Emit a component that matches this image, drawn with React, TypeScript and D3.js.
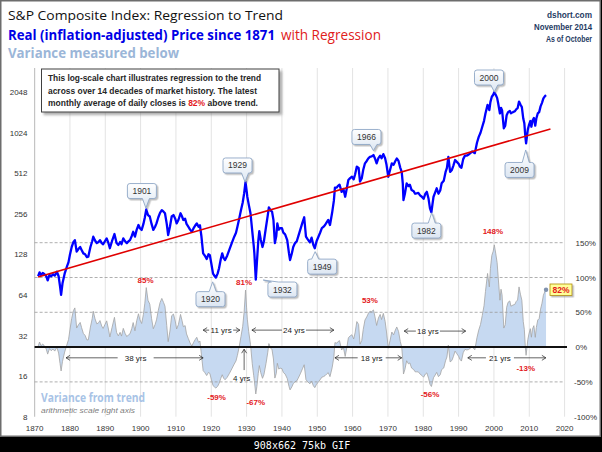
import React from 'react';
import * as d3 from 'd3';

const priceYears = [
  1871.0, 1871.4, 1871.8, 1872.3, 1872.8, 1873.3, 1873.7, 1874.2, 1874.7, 1875.2, 1875.7, 1876.3, 1876.8, 1877.2, 1877.5, 1877.9, 1878.5, 1879.1, 1879.6,
  1880.0, 1880.5, 1881.0, 1881.4, 1881.9, 1882.4, 1882.9, 1883.3, 1883.8, 1884.3, 1884.8, 1885.2, 1885.8, 1886.3, 1886.6, 1887.1, 1887.6, 1888.1, 1888.5, 1889.0, 1889.4, 1889.9,
  1890.4, 1890.9, 1891.3, 1891.9, 1892.6, 1893.2, 1893.7, 1894.2, 1894.6, 1895.1, 1895.6, 1896.1, 1896.6, 1897.0, 1897.5, 1897.9, 1898.4, 1898.9, 1899.4, 1899.8,
  1900.3, 1900.8, 1901.2, 1901.6, 1902.1, 1902.6, 1903.1, 1903.6, 1904.1, 1904.5, 1905.0, 1905.5, 1906.0, 1906.5, 1906.9, 1907.4, 1907.8, 1908.3, 1908.8, 1909.3, 1909.8,
  1910.2, 1910.7, 1911.3, 1911.7, 1912.1, 1912.6, 1913.0, 1913.5, 1914.0, 1914.5, 1915.0, 1915.5, 1915.9, 1916.4, 1916.8, 1917.2, 1917.7, 1918.2, 1918.7, 1919.2, 1919.6,
  1920.0, 1920.5, 1921.0, 1921.3, 1921.8, 1922.2, 1922.7, 1923.1, 1923.5, 1923.9, 1924.5, 1925.1, 1925.8, 1926.5, 1927.0, 1927.4, 1927.9, 1928.4, 1928.9, 1929.3, 1929.7,
  1930.0, 1930.2, 1930.6, 1931.1, 1931.6, 1932.0, 1932.2, 1932.6, 1932.9, 1933.3, 1933.6, 1934.0, 1934.5, 1934.9, 1935.5, 1936.0, 1936.3, 1936.8, 1937.2, 1937.6, 1938.0, 1938.4, 1938.7, 1939.1, 1939.5,
  1940.0, 1940.4, 1940.9, 1941.5, 1942.0, 1942.3, 1942.8, 1943.2, 1943.7, 1944.2, 1944.6, 1945.2, 1945.8, 1946.3, 1946.8, 1947.3, 1947.9, 1948.4, 1948.9, 1949.3, 1949.8,
  1950.3, 1950.8, 1951.3, 1951.8, 1952.2, 1952.7, 1953.1, 1953.6, 1954.2, 1954.7, 1955.0, 1955.5, 1955.8, 1956.3, 1956.9, 1957.4, 1957.9, 1958.4, 1958.8, 1959.3, 1959.8,
  1960.3, 1960.7, 1961.2, 1961.7, 1962.1, 1962.6, 1963.0, 1963.5, 1964.0, 1964.5, 1964.9, 1965.4, 1965.9, 1966.3, 1966.8, 1967.3, 1967.8, 1968.2, 1968.7, 1969.2, 1969.6,
  1970.1, 1970.6, 1971.1, 1971.6, 1972.1, 1972.5, 1973.0, 1973.5, 1973.9, 1974.2, 1974.4, 1974.8, 1975.3, 1975.8, 1976.2, 1976.7, 1977.3, 1977.7, 1978.1, 1978.6, 1979.1, 1979.6,
  1980.1, 1980.6, 1981.0, 1981.5, 1981.9, 1982.3, 1982.6, 1982.9, 1983.4, 1983.8, 1984.3, 1984.8, 1985.2, 1985.8, 1986.3, 1986.7, 1987.1, 1987.6, 1988.1, 1988.5, 1989.0, 1989.5,
  1990.0, 1990.4, 1990.8, 1991.3, 1991.8, 1992.3, 1992.8, 1993.3, 1993.8, 1994.2, 1994.6, 1995.2, 1995.7, 1996.2, 1996.7, 1997.2, 1997.6, 1998.2, 1998.7, 1999.0, 1999.4, 1999.8,
  2000.1, 2000.5, 2000.9, 2001.2, 2001.7, 2002.0, 2002.3, 2002.8, 2003.2, 2003.6, 2004.0, 2004.5, 2004.8, 2005.4, 2005.9, 2006.3, 2006.7, 2007.1, 2007.5, 2007.9, 2008.3, 2008.6, 2008.9, 2009.1, 2009.6, 2009.9,
  2010.3, 2010.6, 2010.9, 2011.3, 2011.7, 2012.0, 2012.4, 2012.8, 2013.2, 2013.6, 2014.0, 2014.4, 2014.75,
];
const priceValues = [
  88, 94, 90, 93, 91, 88, 82, 90, 88, 91, 89, 95, 88, 74, 64, 78, 92, 103, 112,
  127, 145, 158, 163, 134, 140, 145, 138, 130, 128, 122, 123, 145, 160, 173, 162, 155, 158, 163, 155, 152, 160,
  168, 155, 142, 160, 181, 155, 150, 158, 152, 168, 160, 155, 160, 163, 175, 188, 173, 195, 211, 200,
  194, 215, 240, 275, 250, 244, 215, 194, 205, 217, 240, 260, 272, 265, 258, 215, 178, 205, 244, 250, 235,
  217, 230, 258, 245, 230, 235, 215, 205, 195, 188, 200, 210, 217, 205, 210, 175, 130, 125, 118, 128, 126,
  110, 92, 88, 86, 92, 101, 118, 130, 120, 116, 125, 138, 155, 173, 185, 205, 235, 272, 310, 362, 440,
  380, 342, 300, 258, 190, 150, 130, 83, 110, 160, 190, 165, 145, 160, 205, 250, 285, 270, 265, 230, 155, 175, 217, 195, 200,
  200, 185, 180, 163, 130, 116, 130, 145, 155, 160, 173, 195, 220, 241, 173, 165, 157, 170, 150, 142, 160,
  172, 185, 200, 205, 211, 222, 230, 211, 260, 320, 400, 400, 410, 420, 372, 390, 342, 400, 455, 470, 481,
  460, 500, 572, 560, 443, 470, 540, 605, 630, 660, 676, 680, 697, 660, 605, 660, 690, 660, 708, 660, 590,
  481, 540, 605, 590, 630, 657, 630, 560, 522, 430, 323, 360, 430, 410, 420, 383, 375, 360, 362, 365, 350, 342,
  330, 360, 372, 330, 280, 262, 300, 342, 370, 395, 360, 380, 430, 450, 520, 560, 676, 522, 540, 580, 640, 620,
  600, 572, 560, 650, 690, 690, 700, 720, 740, 730, 720, 860, 950, 1020, 1130, 1250, 1418, 1641, 1500, 1720, 1886, 1950,
  2035, 1950, 1850, 1687, 1418, 1560, 1500, 1100, 1150, 1377, 1450, 1480, 1420, 1450, 1470, 1520, 1550, 1736, 1650, 1580, 1300, 1200, 950, 850, 1080, 1160,
  1245, 1130, 1250, 1310, 1150, 1300, 1418, 1450, 1600, 1700, 1833, 1900, 1940,
];

// Regression (exponential trend) end points
const trendYears = [1871, 2016];
const trendValues = [87, 1087];

// Axes
const leftTicks = [8, 16, 32, 64, 128, 256, 512, 1024, 2048];
const rightTicks = [-1, -0.5, 0, 0.5, 1, 1.5];
const rightTickLabels = ['-100%', '-50%', '0%', '50%', '100%', '150%'];
const dashedLevels = [1.5, 1, 0.5, -0.5];
const xTicks = [1870, 1880, 1890, 1900, 1910, 1920, 1930, 1940, 1950, 1960, 1970, 1980, 1990, 2000, 2010, 2020];

// Callouts on the price line
const calloutLabels = ['1901', '1929', '1920', '1932', '1949', '1966', '1982', '2000', '2009'];
const calloutYears = [1901.5, 1929.55, 1920.4, 1934.7, 1949.4, 1965.9, 1982.4, 2000.1, 2009.0];
const calloutValues = [282, 440, 80, 82.5, 134, 751, 260, 2055, 760];
const calloutOffsets = [[-4, -17], [-7.5, -16.5], [-2.2, 17.3], [19.2, 9.5], [7, 15], [-7, -13.7], [-5.4, 17.8], [-5.3, -14.2], [-6.2, 20]];

// Variance extreme labels
const extremeLabels = ['85%', '81%', '-59%', '-67%', '53%', '-56%', '148%', '-13%'];
const extremeYears = [1901.4, 1929.3, 1921.5, 1932.6, 1964.9, 1981.9, 1999.7, 2009.0];
const extremeLevels = [0.96, 0.93, -0.714, -0.786, 0.675, -0.675, 1.67, -0.302];

// Span arrows
const spanLabels = ['38 yrs', '11 yrs', '24 yrs', '18 yrs', '18 yrs', '21 yrs'];
const spanStart = [1878.9, 1917.7, 1931.5, 1955.0, 1974.6, 1992.6];
const spanEnd = [1917.7, 1928.1, 1954.7, 1973.9, 1992.0, 2014.7];
const spanMid = [1898.6, 1922.8, 1943.4, 1965.4, 1981.3, 2001.7];
const spanLevel = [-0.154, 0.244, 0.244, -0.154, 0.23, -0.154];
const spanGap = [18, 12, 12, 14, 12, 14];

// Header lines on the right
const sourceLines = ['dshort.com', 'November 2014', 'As of October'];

const W = 602;
const H = 452;

function calloutPath(x0: number, y0: number, x1: number, y1: number, tx: number, ty: number) {
  const r = 2.5, hw = 3.5;
  let side = 'right';
  if (ty > y1) side = 'bottom';
  else if (ty < y0) side = 'top';
  else if (tx < x0) side = 'left';
  const cx = Math.max(x0 + r + hw + 1, Math.min(x1 - r - hw - 1, tx));
  const cy = Math.max(y0 + r + hw + 1, Math.min(y1 - r - hw - 1, ty));
  let p = `M${x0 + r},${y0}`;
  if (side === 'top') p += `L${cx - hw},${y0}L${tx},${ty}L${cx + hw},${y0}`;
  p += `L${x1 - r},${y0}Q${x1},${y0} ${x1},${y0 + r}`;
  if (side === 'right') p += `L${x1},${cy - hw}L${tx},${ty}L${x1},${cy + hw}`;
  p += `L${x1},${y1 - r}Q${x1},${y1} ${x1 - r},${y1}`;
  if (side === 'bottom') p += `L${cx + hw},${y1}L${tx},${ty}L${cx - hw},${y1}`;
  p += `L${x0 + r},${y1}Q${x0},${y1} ${x0},${y1 - r}`;
  if (side === 'left') p += `L${x0},${cy + hw}L${tx},${ty}L${x0},${cy - hw}`;
  p += `L${x0},${y0 + r}Q${x0},${y0} ${x0 + r},${y0}Z`;
  return p;
}

export default function App() {
  const x = d3.scaleLinear().domain([1870, 2020]).range([34.6, 564.6]);
  const yL = d3.scaleLog().base(2).domain([8, 2048]).range([416.7, 91.9]);
  const yR = d3.scaleLinear().domain([-1, 1.5]).range([416.7, 242.7]);
  const trendLog = d3.scaleLinear().domain(trendYears).range(trendValues.map((v) => Math.log2(v)));
  const trendAt = (yr: number) => Math.pow(2, trendLog(yr));

  const price = priceYears.map((yr, i) => ({ yr, v: priceValues[i] }));
  const variance = price.map((d) => ({ yr: d.yr, v: d.v / trendAt(d.yr) - 1 }));

  const priceLine = d3.line<{ yr: number; v: number }>().x((d) => x(d.yr)).y((d) => yL(d.v))(price) || '';
  const varArea = d3.area<{ yr: number; v: number }>().x((d) => x(d.yr)).y0(yR(0)).y1((d) => yR(d.v))(variance) || '';
  const varLine = d3.line<{ yr: number; v: number }>().x((d) => x(d.yr)).y((d) => yR(d.v))(variance) || '';
  const last = variance[variance.length - 1];

  const font = "'Liberation Sans', Arial, sans-serif";
  const titleFont = "'Open Sans', 'Noto Sans', sans-serif";
  const top = 68;

  const chev = (xe: number, y: number, dir: number) =>
    `M${xe - dir * 4},${y - 2.5}L${xe},${y}L${xe - dir * 4},${y + 2.5}`;

  return (
    <svg width={W} height={H} style={{ display: 'block' }} xmlns="http://www.w3.org/2000/svg">
      <style>{`body{margin:0}`}</style>
      <defs>
        <filter id="sh" x="-20%" y="-20%" width="150%" height="160%">
          <feDropShadow dx="1.5" dy="1.5" stdDeviation="0.7" floodColor="#8a8a8a" floodOpacity="0.55" />
        </filter>
        <filter id="sh2" x="-10%" y="-10%" width="120%" height="140%">
          <feDropShadow dx="2.5" dy="2.5" stdDeviation="1" floodColor="#777" floodOpacity="0.6" />
        </filter>
        <linearGradient id="cg" x1="0" y1="0" x2="0" y2="1">
          <stop offset="0" stopColor="#ffffff" />
          <stop offset="1" stopColor="#dce6f2" />
        </linearGradient>
      </defs>
      <rect x={0} y={0} width={W} height={H} fill="#000" />
      <rect x={0.75} y={0.75} width={599.5} height={435.5} fill="#fff" stroke="#6d6d6d" strokeWidth={1.5} />

      {/* header */}
      <text x={8} y={20} fontFamily={titleFont} fontSize={13.5} fill="#111" textLength={275} lengthAdjust="spacingAndGlyphs">
        S&amp;P Composite Index: Regression to Trend
      </text>
      <text x={8} y={39.5} fontFamily={titleFont} fontSize={14} fontWeight="bold" fill="#0000e6" textLength={267} lengthAdjust="spacingAndGlyphs">
        Real (inflation-adjusted) Price since 1871
      </text>
      <text x={281} y={39.5} fontFamily={titleFont} fontSize={14} fill="#e0201b" textLength={100} lengthAdjust="spacingAndGlyphs">
        with Regression
      </text>
      <text x={8} y={58} fontFamily={titleFont} fontSize={14} fontWeight="bold" fill="#9bb6d8" textLength={171} lengthAdjust="spacingAndGlyphs">
        Variance measured below
      </text>
      {sourceLines.map((t, i) => {
        const wdt = [45, 58, 46][i];
        return (
          <text key={t} x={592 - wdt} y={18 + i * 12} fontFamily={font} fontSize={8.2} fontWeight="bold" fill="#1f3b63"
            textLength={wdt} lengthAdjust="spacingAndGlyphs">{t}</text>
        );
      })}

      {/* grid */}
      {xTicks.slice(1).map((t) => (
        <line key={t} x1={x(t)} x2={x(t)} y1={top} y2={416.7} stroke="#e3e3e3" strokeWidth={1} />
      ))}
      <line x1={x(1870)} x2={x(1870)} y1={top} y2={416.7} stroke="#c4c4c4" strokeWidth={1.2} />

      {/* variance area */}
      <path d={varArea} fill="#c6d9f1" />
      <path d={varLine} fill="none" stroke="#a3a3a3" strokeWidth={0.8} />
      {dashedLevels.map((l) => (
        <line key={l} x1={x(1870)} x2={x(2020)} y1={yR(l)} y2={yR(l)} stroke="#9a9a9a" strokeWidth={0.8} strokeDasharray="3,2" />
      ))}
      <line x1={x(1870)} x2={567} y1={yR(0)} y2={yR(0)} stroke="#111" strokeWidth={2} />

      {/* price & trend */}
      <path d={priceLine} fill="none" stroke="#0000ff" strokeWidth={2.3} strokeLinejoin="round" />
      <line x1={x(trendYears[0])} y1={yL(trendValues[0])} x2={x(trendYears[1])} y2={yL(trendValues[1])} stroke="#e00000" strokeWidth={1.6} />

      {/* axis labels */}
      {leftTicks.map((t) => (
        <text key={t} x={27.5} y={yL(t) + 3} textAnchor="end" fontFamily={font} fontSize={8} fill="#333">{t}</text>
      ))}
      {rightTicks.map((t, i) => (
        <text key={t} x={t < 0 ? 574 : 575.5} y={yR(t) + 3} fontFamily={font} fontSize={8} fill="#333">{rightTickLabels[i]}</text>
      ))}
      {xTicks.map((t) => (
        <text key={t} x={x(t)} y={430.5} textAnchor="middle" fontFamily={font} fontSize={8} fill="#333">{t}</text>
      ))}

      {/* span arrows */}
      {spanLabels.map((lab, i) => {
        const y = yR(spanLevel[i]);
        const xs = x(spanStart[i]), xe = x(spanEnd[i]), xm = x(spanMid[i]);
        const g = spanGap[i];
        return (
          <g key={i} stroke="#222" strokeWidth={0.7} fill="none">
            <line x1={xs} x2={Math.max(xs, xm - g)} y1={y} y2={y} />
            <line x1={Math.min(xe, xm + g)} x2={xe} y1={y} y2={y} />
            <path d={chev(xs, y, -1)} />
            <path d={chev(xe, y, 1)} />
            <text x={xm} y={y + 3} textAnchor="middle" fontFamily={font} fontSize={8} fill="#222" stroke="none">{lab}</text>
          </g>
        );
      })}
      <g stroke="#222" strokeWidth={0.7} fill="none">
        <line x1={x(1929.3)} x2={x(1929.3)} y1={yR(-0.33)} y2={yR(-0.03)} />
        <path d={`M${x(1929.3) - 2.5},${yR(-0.03) + 4}L${x(1929.3)},${yR(-0.03)}L${x(1929.3) + 2.5},${yR(-0.03) + 4}`} />
        <text x={x(1928.6)} y={yR(-0.445) + 3} textAnchor="middle" fontFamily={font} fontSize={8} fill="#222" stroke="none">4 yrs</text>
      </g>

      {/* extreme labels */}
      {extremeLabels.map((lab, i) => (
        <text key={i} x={x(extremeYears[i])} y={yR(extremeLevels[i]) + 3} textAnchor="middle" fontFamily={font} fontSize={8} fontWeight="bold" fill="#e3191c">{lab}</text>
      ))}

      {/* last point & 82% box */}
      <circle cx={x(last.yr)} cy={yR(last.v)} r={2.2} fill="#7f91ad" />
      <rect x={550} y={284} width={22} height={11.5} fill="#ffff99" stroke="#b08c00" strokeWidth={0.8} filter="url(#sh)" />
      <text x={561} y={293} textAnchor="middle" fontFamily={font} fontSize={8.5} fontWeight="bold" fill="#e3191c">82%</text>

      {/* variance caption */}
      <text x={41} y={402} fontFamily={titleFont} fontSize={12} fontWeight="bold" fill="#a8c3e6" textLength={104} lengthAdjust="spacingAndGlyphs">Variance from trend</text>
      <text x={41} y={413} fontFamily={font} fontSize={7} fontStyle="italic" fill="#808080" textLength={94} lengthAdjust="spacingAndGlyphs">arithmetic scale right axis</text>

      {/* callouts */}
      {calloutLabels.map((lab, i) => {
        const tx = x(calloutYears[i]), ty = yL(calloutValues[i]);
        const cx = tx + calloutOffsets[i][0], cy = ty + calloutOffsets[i][1];
        const w = 29, h = 15;
        return (
          <g key={lab}>
            <path d={calloutPath(cx - w / 2, cy - h / 2, cx + w / 2, cy + h / 2, tx, ty)} fill="url(#cg)" stroke="#8ea7c6" strokeWidth={0.9} filter="url(#sh)" />
            <text x={cx} y={cy + 3} textAnchor="middle" fontFamily={font} fontSize={8.5} fill="#333">{lab}</text>
          </g>
        );
      })}

      {/* note box */}
      <rect x={41.5} y={69} width={237.5} height={43} fill="#fff" stroke="#3f3f3f" strokeWidth={1} filter="url(#sh2)" />
      <text x={48} y={81} fontFamily={font} fontSize={8.5} fontWeight="bold" fill="#262626" textLength={213} lengthAdjust="spacingAndGlyphs">This log-scale chart illustrates regression to the trend</text>
      <text x={48} y={93.5} fontFamily={font} fontSize={8.5} fontWeight="bold" fill="#262626" textLength={209} lengthAdjust="spacingAndGlyphs">across over 14 decades of market history. The latest</text>
      <text x={48} y={105.5} fontFamily={font} fontSize={8.5} fontWeight="bold" fill="#262626" textLength={210} lengthAdjust="spacingAndGlyphs">
        monthly average of daily closes is <tspan fill="#e3191c">82%</tspan> above trend.
      </text>

      {/* bottom bar */}
      <text x={302} y={448.5} textAnchor="middle" fontFamily="'DejaVu Sans Mono', monospace" fontSize={10} fill="#fff">908x662 75kb GIF</text>
    </svg>
  );
}
